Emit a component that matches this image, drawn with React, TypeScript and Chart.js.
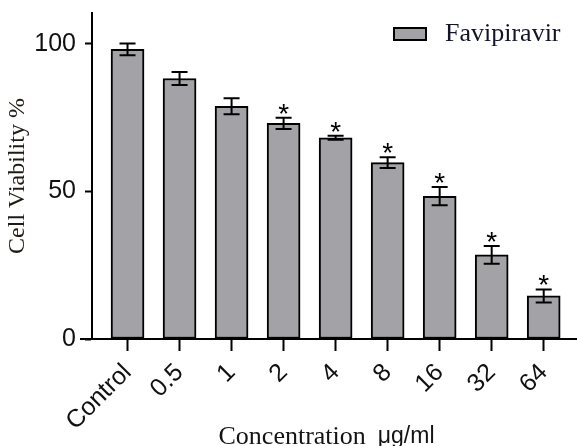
import React, { useEffect, useRef } from "react";
import { Chart, registerables } from "chart.js";

Chart.register(...registerables);

const categories = ["Control", "0.5", "1", "2", "4", "8", "16", "32", "64"];
const viability = [98.2, 88.3, 78.9, 73.1, 68.2, 59.8, 48.4, 28.5, 14.6];
const errors = [2.0, 2.2, 2.7, 1.9, 0.7, 1.8, 3.1, 3.0, 2.2];
const significant = [false, false, false, true, true, true, true, true, true];
const yTicks = [0, 50, 100];
const seriesName = "Favipiravir";
const xTitleMain = "Concentration";
const xTitleUnit = "μg/ml";
const yTitle = "Cell Viability %";

const BAR_FILL = "#a3a3a7";
const SANS = "'Liberation Sans', Arial, sans-serif";
const SERIF = "'Liberation Serif', 'Times New Roman', serif";

const overlayPlugin = {
  id: "overlay",
  afterDatasetsDraw(chart: any) {
    const ctx = chart.ctx;
    const xs = chart.scales.x;
    const ys = chart.scales.y;
    ctx.save();
    // error bars
    ctx.strokeStyle = "#000";
    ctx.lineWidth = 2;
    viability.forEach((v, i) => {
      const x = xs.getPixelForValue(i);
      const yt = ys.getPixelForValue(v + errors[i]);
      const yb = ys.getPixelForValue(v - errors[i]);
      ctx.beginPath();
      ctx.moveTo(x, yt);
      ctx.lineTo(x, yb);
      ctx.moveTo(x - 8, yt);
      ctx.lineTo(x + 8, yt);
      ctx.moveTo(x - 8, yb);
      ctx.lineTo(x + 8, yb);
      ctx.stroke();
      if (significant[i]) {
        ctx.font = `28px ${SANS}`;
        ctx.fillStyle = "#000";
        ctx.textAlign = "center";
        ctx.textBaseline = "alphabetic";
        const m = ctx.measureText("*");
        const desc = m.actualBoundingBoxDescent || -12;
        ctx.fillText("*", x, yt - 4 - desc);
      }
    });
    // x axis extension to the left of y axis
    const ca = chart.chartArea;
    ctx.beginPath();
    ctx.moveTo(ca.left - 12, ca.bottom);
    ctx.lineTo(ca.left, ca.bottom);
    ctx.stroke();
    // legend
    const lx = 393, ly = 27;
    ctx.fillStyle = BAR_FILL;
    ctx.fillRect(lx, ly, 34, 14);
    ctx.strokeRect(lx + 1, ly + 1, 32, 12);
    ctx.font = `26px ${SERIF}`;
    ctx.fillStyle = "#141428";
    ctx.textAlign = "left";
    ctx.textBaseline = "middle";
    ctx.fillText(seriesName, 445, ly + 7);
    // x title (mixed fonts)
    ctx.textBaseline = "alphabetic";
    ctx.font = `26px ${SERIF}`;
    const w1 = ctx.measureText(xTitleMain).width;
    ctx.font = `23px ${SANS}`;
    const w2 = ctx.measureText(xTitleUnit).width;
    const gap = 12;
    const total = w1 + gap + w2;
    const cx = (ca.left + ca.right) / 2 - 8;
    const sx = cx - total / 2;
    ctx.fillStyle = "#141414";
    ctx.font = `26px ${SERIF}`;
    ctx.fillText(xTitleMain, sx, 444);
    ctx.font = `23px ${SANS}`;
    ctx.fillText(xTitleUnit, sx + w1 + gap, 443);
    ctx.restore();
  },
};

export default function App() {
  const ref = useRef<HTMLCanvasElement | null>(null);
  useEffect(() => {
    document.body.style.margin = "0";
    const canvas = ref.current;
    if (!canvas) return;
    const chart = new Chart(canvas, {
      type: "bar",
      data: {
        datasets: [
          {
            label: seriesName,
            data: viability.map((v, i) => ({ x: i, y: v })),
            backgroundColor: BAR_FILL,
            borderColor: "#000",
            borderWidth: 2,
            borderSkipped: false,
            barThickness: 33,
          } as any,
        ],
      },
      options: {
        animation: false,
        responsive: false,
        devicePixelRatio: 1,
        layout: { padding: { top: 13, left: 0, right: 0, bottom: 0 } },
        plugins: {
          legend: { display: false },
          tooltip: { enabled: false },
        },
        scales: {
          x: {
            type: "linear",
            offset: false,
            min: -0.683,
            max: 8.64,
            afterBuildTicks: (scale: any) => {
              scale.ticks = categories.map((_, i) => ({ value: i }));
            },
            afterFit: (scale: any) => {
              scale.height = 107;
              scale.paddingLeft = 0;
              scale.paddingRight = 0;
            },
            ticks: {
              autoSkip: false,
              minRotation: 45,
              maxRotation: 45,
              padding: 7,
              color: "#111",
              font: { family: SANS, size: 25 },
              callback: (value: any) => categories[Math.round(Number(value))] ?? "",
            },
            grid: {
              offset: false,
              drawOnChartArea: false,
              drawTicks: true,
              tickLength: 12,
              tickWidth: 2,
              tickColor: "#000",
            },
            border: { display: true, color: "#000", width: 2 },
          } as any,
          y: {
            min: 0,
            max: 110.5,
            afterBuildTicks: (scale: any) => {
              scale.ticks = yTicks.map((v) => ({ value: v }));
            },
            afterFit: (scale: any) => {
              scale.width = 92;
              scale.paddingTop = 0;
              scale.paddingBottom = 0;
            },
            ticks: {
              padding: 9,
              color: "#111",
              font: { family: SANS, size: 25 },
            },
            grid: {
              drawOnChartArea: false,
              drawTicks: true,
              tickLength: 7,
              tickWidth: 2,
              tickColor: "#000",
            },
            border: { display: true, color: "#000", width: 2 },
            title: {
              display: true,
              text: yTitle,
              color: "#1e1a14",
              font: { family: SERIF, size: 24 },
              padding: { top: 3, bottom: 0 },
            },
          } as any,
        },
      },
      plugins: [overlayPlugin],
    });
    return () => chart.destroy();
  }, []);
  return (
    <div style={{ width: 577, height: 446 }}>
      <canvas ref={ref} width={577} height={446} style={{ display: "block" }} />
    </div>
  );
}
